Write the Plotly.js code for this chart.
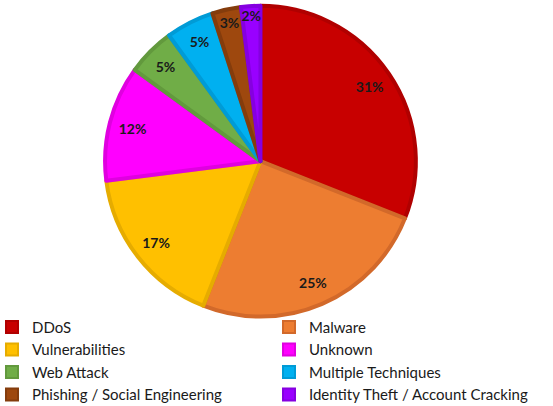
<!DOCTYPE html>
<html><head><meta charset="utf-8">
<script src="https://cdn.plot.ly/plotly-3.0.1.min.js"></script>
<style>html,body{margin:0;padding:0;background:#fff}#chart{width:553px;height:406px}</style>
</head><body><div id="chart"></div>
<script>
const categories = ["DDoS","Malware","Vulnerabilities","Unknown","Web Attack","Multiple Techniques","Phishing / Social Engineering","Identity Theft / Account Cracking"];
const shares = [31,25,17,12,5,5,3,2];
const fillColors = ["#C80000","#ED7D31","#FFC000","#FF00FF","#70AD47","#00B0F0","#9E480E","#9900FF"];
const borderColors = ["#B00000","#D2692A","#E6AC00","#E000E0","#62993D","#009BD6","#843C0C","#8500E0"];

const dom = {x: [0.19, 0.752], y: [0.219, 0.987]};
Plotly.newPlot("chart", [{
  type: "pie",
  labels: categories,
  values: shares,
  sort: false,
  direction: "clockwise",
  rotation: 0,
  marker: {colors: fillColors, line: {color: borderColors, width: 4}},
  textinfo: "none",
  hoverinfo: "none",
  domain: dom
}, {
  type: "pie",
  labels: categories,
  values: shares,
  sort: false,
  direction: "clockwise",
  rotation: 0,
  hole: 0.7,
  showlegend: false,
  marker: {colors: categories.map(() => "rgba(0,0,0,0)"), line: {width: 0}},
  texttemplate: "%{value}%",
  textposition: "inside",
  insidetextorientation: "horizontal",
  textfont: {family: "Lato, sans-serif", size: 14, color: "#1a1a1a", weight: "bold"},
  hoverinfo: "none",
  domain: dom
}], {
  width: 553, height: 406,
  margin: {l: 0, r: 0, t: 0, b: 0, autoexpand: false},
  paper_bgcolor: "#fff",
  showlegend: true,
  uniformtext: {mode: "show", minsize: 14},
  legend: {
    orientation: "h", x: 0.9873, xanchor: "right", y: 0.2344, yanchor: "top",
    entrywidth: 232, entrywidthmode: "pixels",
    bgcolor: "rgba(0,0,0,0)",
    font: {family: "Lato, sans-serif", size: 15, color: "#1a1a1a"},
    traceorder: "normal", itemsizing: "constant"
  }
}, {staticPlot: true});
</script></body></html>
